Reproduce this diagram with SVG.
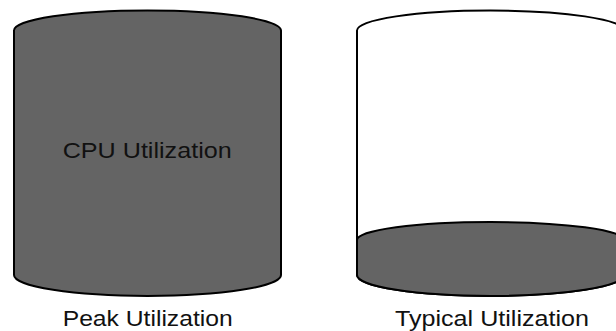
<svg xmlns="http://www.w3.org/2000/svg" width="616" height="331" viewBox="0 0 616 331">
<style>
.body{stroke:#000;stroke-width:2;}
.dark{fill:#646464;}
.light{fill:#fff;}
.lbl{font-family:"Liberation Sans",Arial,sans-serif;font-size:22.5px;fill:#111;}
</style>
<rect width="616" height="331" fill="#fff"/>
<g id="peak">
<path class="body dark" d="M14,30.5 A133.5,20 0 0 1 281,30.5 L281,275 A133.5,21 0 0 1 14,275 Z"/>
<text class="lbl" x="62.7" y="157.5" textLength="169" lengthAdjust="spacingAndGlyphs">CPU Utilization</text>
<text class="lbl" x="62.7" y="326" textLength="170" lengthAdjust="spacingAndGlyphs">Peak Utilization</text>
</g>
<g id="typical">
<path class="body light" d="M357,30.5 A133.5,20 0 0 1 624,30.5 L624,275 A133.5,21 0 0 1 357,275 Z"/>
<path class="body dark" d="M357,240 A133.5,18 0 0 1 624,240 L624,275 A133.5,21 0 0 1 357,275 Z"/>
<text class="lbl" x="395" y="326" textLength="194" lengthAdjust="spacingAndGlyphs">Typical Utilization</text>
</g>
<g id="connectors"/>
</svg>
